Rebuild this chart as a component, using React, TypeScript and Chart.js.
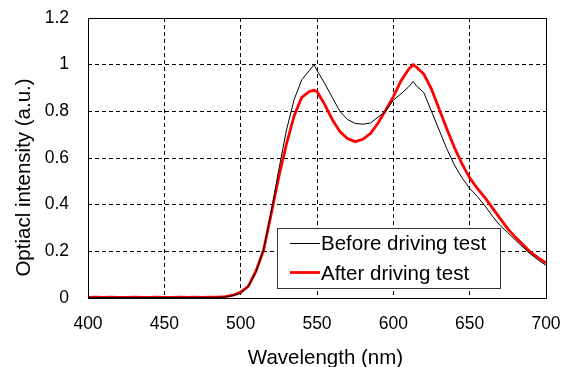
import React, { useEffect, useRef } from "react";
import { Chart, registerables } from "chart.js";

Chart.register(...registerables);

const wavelengths = [
  400, 405, 410, 415, 420, 425, 430, 435, 440, 445, 450, 455, 460, 465, 470, 475, 480, 485, 490, 495,
  500, 505, 510, 515, 520, 525, 530, 535, 540, 545, 548, 550, 555, 560, 565, 570, 575, 580, 585, 590,
  595, 600, 605, 610, 613, 615, 620, 625, 630, 635, 640, 645, 650, 655, 660, 665, 670, 675, 680, 685,
  690, 695, 700,
];

const beforeTest = [
  0.002, 0.002, 0.002, 0.002, 0.002, 0.002, 0.002, 0.002, 0.002, 0.002, 0.002, 0.002, 0.002, 0.002, 0.002, 0.002, 0.002, 0.003, 0.005, 0.01,
  0.02, 0.05, 0.11, 0.21, 0.37, 0.55, 0.72, 0.85, 0.935, 0.975, 1.0, 0.975, 0.92, 0.86, 0.8, 0.765, 0.748, 0.745, 0.75, 0.775,
  0.8, 0.848, 0.875, 0.905, 0.928, 0.91, 0.88, 0.8, 0.72, 0.64, 0.57, 0.515, 0.47, 0.435, 0.395, 0.35, 0.31, 0.28, 0.248, 0.218,
  0.188, 0.162, 0.14,
];

const afterTest = [
  0.003, 0.004, 0.003, 0.004, 0.003, 0.003, 0.004, 0.003, 0.003, 0.004, 0.003, 0.003, 0.004, 0.003, 0.004, 0.003, 0.004, 0.004, 0.006, 0.012,
  0.025, 0.05, 0.115, 0.205, 0.36, 0.52, 0.66, 0.78, 0.86, 0.885, 0.89, 0.885, 0.83, 0.765, 0.713, 0.683, 0.67, 0.68, 0.705, 0.75,
  0.805, 0.863, 0.93, 0.98, 1.0, 0.99, 0.96, 0.895, 0.81, 0.725, 0.645, 0.575, 0.515, 0.47, 0.43, 0.385, 0.34, 0.296, 0.26, 0.228,
  0.195, 0.172, 0.15,
];

const seriesLabels = ["Before driving test", "After driving test"];
const xTickLabels = ["400", "450", "500", "550", "600", "650", "700"];
const yTickLabels = ["0", "0.2", "0.4", "0.6", "0.8", "1", "1.2"];
const xTitle = "Wavelength (nm)";
const yTitle = "Optiacl intensity (a.u.)";

const FONT = "'Liberation Sans', Arial, sans-serif";

const decorPlugin = {
  id: "decor",
  afterDatasetsDraw(chart: any) {
    const { ctx, chartArea } = chart;
    ctx.save();
    ctx.strokeStyle = "#000";
    ctx.lineWidth = 1;
    ctx.setLineDash([]);
    ctx.strokeRect(
      Math.round(chartArea.left) + 0.5,
      Math.round(chartArea.top) + 0.5,
      Math.round(chartArea.right - chartArea.left),
      Math.round(chartArea.bottom - chartArea.top)
    );
    ctx.fillStyle = "#000";
    ctx.font = `20.5px ${FONT}`;
    ctx.textAlign = "center";
    ctx.textBaseline = "alphabetic";
    ctx.fillText(xTitle, 325.5, 364);
    ctx.save();
    ctx.translate(30, 177.5);
    ctx.rotate(-Math.PI / 2);
    ctx.fillText(yTitle, 0, 0);
    ctx.restore();
    const bx = 277.5, by = 228.5, bw = 223, bh = 60;
    ctx.fillStyle = "#fff";
    ctx.fillRect(bx, by, bw, bh);
    ctx.strokeStyle = "#333";
    ctx.lineWidth = 1;
    ctx.strokeRect(bx, by, bw, bh);
    const ds = chart.data.datasets;
    const rows = [
      { lineY: 243.5, baseY: 250 },
      { lineY: 272.5, baseY: 280 },
    ];
    ds.forEach((d: any, i: number) => {
      ctx.strokeStyle = d.borderColor;
      ctx.lineWidth = d.borderWidth;
      ctx.beginPath();
      ctx.moveTo(290, rows[i].lineY);
      ctx.lineTo(320, rows[i].lineY);
      ctx.stroke();
      ctx.fillStyle = "#000";
      ctx.font = `20.5px ${FONT}`;
      ctx.textAlign = "left";
      ctx.textBaseline = "alphabetic";
      ctx.fillText(d.label, 321, rows[i].baseY);
    });
    ctx.restore();
  },
};

const zeroPad = (scale: any) => {
  scale.paddingTop = 0;
  scale.paddingBottom = 0;
  scale.paddingLeft = 0;
  scale.paddingRight = 0;
};

export default function App() {
  const ref = useRef<HTMLCanvasElement>(null);
  useEffect(() => {
    if (!ref.current) return;
    const xTickValues = xTickLabels.map(Number);
    const yTickValues = yTickLabels.map(Number);
    const chart = new Chart(ref.current, {
      type: "line",
      data: {
        datasets: [
          {
            label: seriesLabels[0],
            data: wavelengths.map((x, i) => ({ x, y: beforeTest[i] })),
            borderColor: "#000000",
            borderWidth: 1,
            pointRadius: 0,
            tension: 0,
            clip: false as any,
          },
          {
            label: seriesLabels[1],
            data: wavelengths.map((x, i) => ({ x, y: afterTest[i] })),
            borderColor: "#ff0000",
            borderWidth: 2.8,
            pointRadius: 0,
            tension: 0,
            clip: false as any,
          },
        ],
      },
      options: {
        animation: false,
        responsive: false,
        maintainAspectRatio: false,
        devicePixelRatio: 1,
        layout: { padding: { left: 0, top: 18, right: 27, bottom: 0 } },
        plugins: { legend: { display: false }, tooltip: { enabled: false } },
        scales: {
          x: {
            type: "linear",
            min: 400,
            max: 700,
            afterBuildTicks: (scale: any) => {
              scale.ticks = xTickValues.map((v) => ({ value: v }));
            },
            afterFit: (scale: any) => {
              scale.height = 69;
              zeroPad(scale);
            },
            ticks: {
              padding: 16,
              color: "#000",
              font: { family: FONT, size: 17.5 },
              maxRotation: 0,
              callback: (v: any) => {
                const idx = xTickValues.indexOf(Number(v));
                return idx >= 0 ? xTickLabels[idx] : "";
              },
            },
            grid: {
              drawTicks: false,
              color: (c: any) =>
                c.tick && (c.tick.value === 400 || c.tick.value === 700) ? "rgba(0,0,0,0)" : "#000",
              lineWidth: 1,
            },
            border: { display: false, dash: [4, 3] },
          },
          y: {
            type: "linear",
            min: 0,
            max: 1.2,
            afterBuildTicks: (scale: any) => {
              scale.ticks = yTickValues.map((v) => ({ value: v }));
            },
            afterFit: (scale: any) => {
              scale.width = 88;
              zeroPad(scale);
            },
            ticks: {
              padding: 19,
              color: "#000",
              font: { family: FONT, size: 17.5 },
              callback: (v: any) => {
                let best = 0;
                yTickValues.forEach((t, i) => {
                  if (Math.abs(t - Number(v)) < Math.abs(yTickValues[best] - Number(v))) best = i;
                });
                return yTickLabels[best];
              },
            },
            grid: {
              drawTicks: false,
              color: (c: any) =>
                c.tick && (c.tick.value === 0 || Math.abs(c.tick.value - 1.2) < 1e-9) ? "rgba(0,0,0,0)" : "#000",
              lineWidth: 1,
            },
            border: { display: false, dash: [4, 3] },
          },
        },
      },
      plugins: [decorPlugin],
    } as any);
    return () => chart.destroy();
  }, []);
  return (
    <div style={{ position: "fixed", left: 0, top: 0, width: 573, height: 367, background: "#fff" }}>
      <canvas ref={ref} width={573} height={367} style={{ width: 573, height: 367, display: "block" }} />
    </div>
  );
}
